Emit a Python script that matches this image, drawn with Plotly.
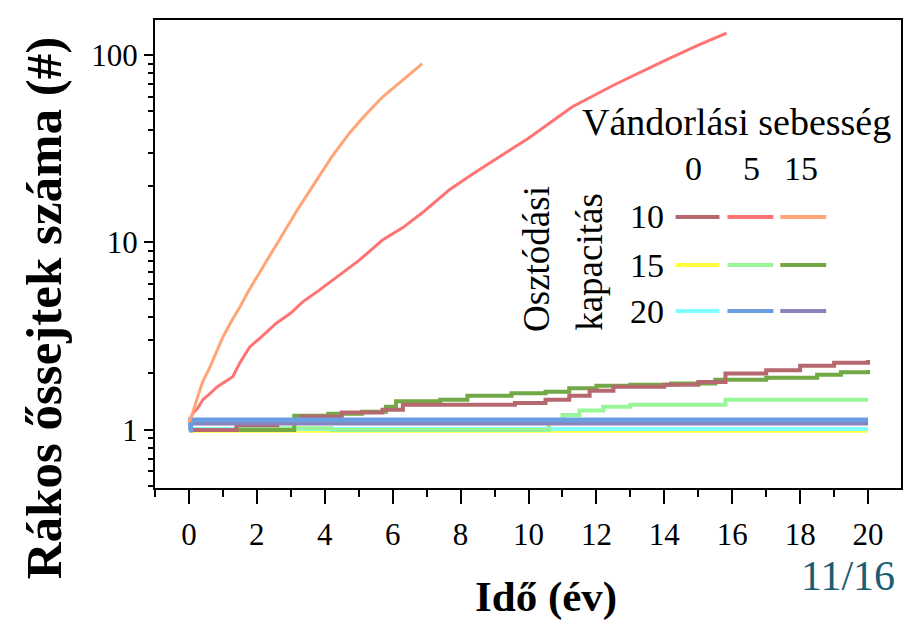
import plotly.graph_objects as go

# ---------------- data ----------------
# capacity 10
x_c10_v0 = [0, 1.4, 2.6, 3.3, 4.5, 5.7, 6.3, 9.6, 10.5, 11.2, 11.8, 12.5, 14.0, 15.0, 15.8, 17.0, 18.0, 19.0, 20]
y_c10_v0 = [1.0, 1.06, 1.12, 1.18, 1.24, 1.28, 1.36, 1.39, 1.45, 1.52, 1.62, 1.7, 1.74, 1.8, 2.0, 2.08, 2.2, 2.28, 2.36]

x_c10_v5 = [0, 0.12, 0.25, 0.41, 0.6, 0.82, 1.05, 1.29, 1.5, 1.79, 2.1, 2.58, 3.0, 3.35, 3.8, 4.35, 5.0,
            5.7, 6.3, 6.87, 7.3, 7.67, 8.4, 9.13, 10.0, 11.28, 12.5, 14.04, 15.0, 15.83]
y_c10_v5 = [1.1, 1.23, 1.3, 1.45, 1.55, 1.69, 1.8, 1.92, 2.28, 2.77, 3.1, 3.72, 4.2, 4.82, 5.5, 6.55, 8.0,
            10.3, 12.0, 14.4, 16.8, 19.1, 23.5, 28.6, 36, 52.8, 69, 94, 113, 131]

x_c10_v15 = [0, 0.09, 0.23, 0.4, 0.62, 0.8, 1.0, 1.25, 1.5, 1.75, 2.0, 2.4, 2.76, 3.2, 3.76, 4.2, 4.73, 5.2, 5.7, 6.3, 6.87]
y_c10_v15 = [1.1, 1.2, 1.45, 1.8, 2.17, 2.6, 3.13, 3.8, 4.53, 5.5, 6.55, 8.6, 11.2, 15.0, 21.5, 28.5, 38.4, 48, 59.7, 74, 90]

# capacity 15
x_c15_v0 = [0, 20]
y_c15_v0 = [0.99, 0.99]

x_c15_v5 = [0, 1.5, 4.2, 10.5, 10.6, 11.0, 11.5, 12.2, 13.0, 15.8, 20]
y_c15_v5 = [1.0, 1.02, 1.0, 1.0, 1.1, 1.2, 1.27, 1.33, 1.36, 1.45, 1.45]

x_c15_v15 = [0, 3.1, 4.1, 5.1, 5.8, 6.1, 7.4, 8.2, 9.5, 10.5, 11.2, 12.0, 13.0, 14.2, 15.5, 17.0, 18.5, 19.2, 20]
y_c15_v15 = [1.0, 1.19, 1.22, 1.25, 1.33, 1.42, 1.45, 1.52, 1.57, 1.6, 1.67, 1.72, 1.74, 1.77, 1.85, 1.9, 1.97, 2.03, 2.09]

# capacity 20
x_c20_v0 = [0, 20]
y_c20_v0 = [1.01, 1.01]

x_c20_v5 = [0, 0.05, 20]
y_c20_v5 = [1.0, 1.13, 1.13]

x_c20_v15 = [0, 20]
y_c20_v15 = [1.09, 1.09]

speeds = ["0", "5", "15"]
capacities = ["10", "15", "20"]
colors = {
    ("10", "0"): "#b5686e", ("10", "5"): "#ff7373", ("10", "15"): "#ffa577",
    ("15", "0"): "#ffff40", ("15", "5"): "#98f598", ("15", "15"): "#72a845",
    ("20", "0"): "#80ffff", ("20", "5"): "#6a9ee0", ("20", "15"): "#8a82bb",
}

x_ticks = list(range(0, 21, 2))
y_ticks = [1, 10, 100]

series = [
    ("15", "0", x_c15_v0, y_c15_v0, 4),
    ("20", "0", x_c20_v0, y_c20_v0, 4),
    ("15", "5", x_c15_v5, y_c15_v5, 4),
    ("15", "15", x_c15_v15, y_c15_v15, 4),
    ("10", "0", x_c10_v0, y_c10_v0, 4),
    ("20", "15", x_c20_v15, y_c20_v15, 5),
    ("20", "5", x_c20_v5, y_c20_v5, 5),
    ("10", "5", x_c10_v5, y_c10_v5, 3),
    ("10", "15", x_c10_v15, y_c10_v15, 3),
]

FONT = "Liberation Serif"
W, H = 903, 623
L, T, B = 155, 20, 135
PW = W - L
PH = H - T - B


def px(xp):
    return (xp - L) / PW


def py(yp):
    return (H - B - yp) / PH


fig = go.Figure()
for cap, sp, xs, ys, w in series:
    shape = "linear" if cap == "10" and sp != "0" else "hv"
    fig.add_trace(go.Scatter(x=xs, y=ys, mode="lines", showlegend=False,
                             line=dict(color=colors[(cap, sp)], width=w, shape=shape)))

annotations = []
shapes = []


def ann(text, xp, yp, size, angle=0, xanchor="center", bold=False, color="black"):
    if bold:
        text = "<b>" + text + "</b>"
    annotations.append(dict(text=text, x=px(xp), y=py(yp), xref="paper", yref="paper",
                            showarrow=False, xanchor=xanchor, yanchor="middle", textangle=angle,
                            font=dict(family=FONT, size=size, color=color)))


# legend block
ann("Vándorlási sebesség", 738, 122, 38)
col_x = [695, 753, 803]
for s, cx in zip(speeds, col_x):
    ann(s, cx, 168, 34)
row_y = [217, 265, 311]
line_x = [(677, 721), (729, 775), (782, 828)]
for c, ry in zip(capacities, row_y):
    ann(c, 667, ry, 34, xanchor="right")
    for s, (x0, x1) in zip(speeds, line_x):
        shapes.append(dict(type="line", xref="paper", yref="paper", x0=px(x0), x1=px(x1),
                           y0=py(ry), y1=py(ry), line=dict(color=colors[(c, s)], width=4)))
ann("Osztódási", 537, 259, 37, angle=-90)
ann("kapacitás", 590, 262, 37, angle=-90)

# axis titles
ann("Idő (év)", 547, 597, 43, bold=True)
ann("Rákos őssejtek száma (#)", 44, 308, 51, angle=-90, bold=True)

# page number
ann("11/16", 850, 576, 42, color="#1a5e73")

axis_common = dict(showgrid=False, zeroline=False, showline=True, linecolor="black", linewidth=2,
                   mirror=True, ticks="outside", tickcolor="black", tickwidth=2,
                   tickfont=dict(family=FONT, size=31, color="black"))

fig.update_layout(
    width=W, height=H,
    margin=dict(l=L, r=0, t=T, b=B),
    paper_bgcolor="white", plot_bgcolor="white",
    annotations=annotations, shapes=shapes,
    xaxis=dict(range=[-1, 20.97], tickmode="array", tickvals=x_ticks, ticklen=14,
               ticklabelstandoff=4,
               minor=dict(tickmode="array", tickvals=[-1] + list(range(1, 20, 2)), ticks="outside",
                          ticklen=7, tickwidth=2, tickcolor="black"),
               **axis_common),
    yaxis=dict(type="log", range=[-0.31, 2.187], tickmode="array", tickvals=y_ticks,
               ticktext=[str(v) for v in y_ticks], ticklen=9,
               minor=dict(tickmode="array",
                          tickvals=[0.5, 0.6, 0.7, 0.8, 0.9] + list(range(2, 10)) +
                                   list(range(20, 100, 10)) + [200],
                          ticks="outside", ticklen=5, tickwidth=2, tickcolor="black"),
               **axis_common),
)

fig.write_html("out.html", config={"displayModeBar": False},
               post_script="document.body.style.margin='0';document.body.style.overflow='hidden';")
